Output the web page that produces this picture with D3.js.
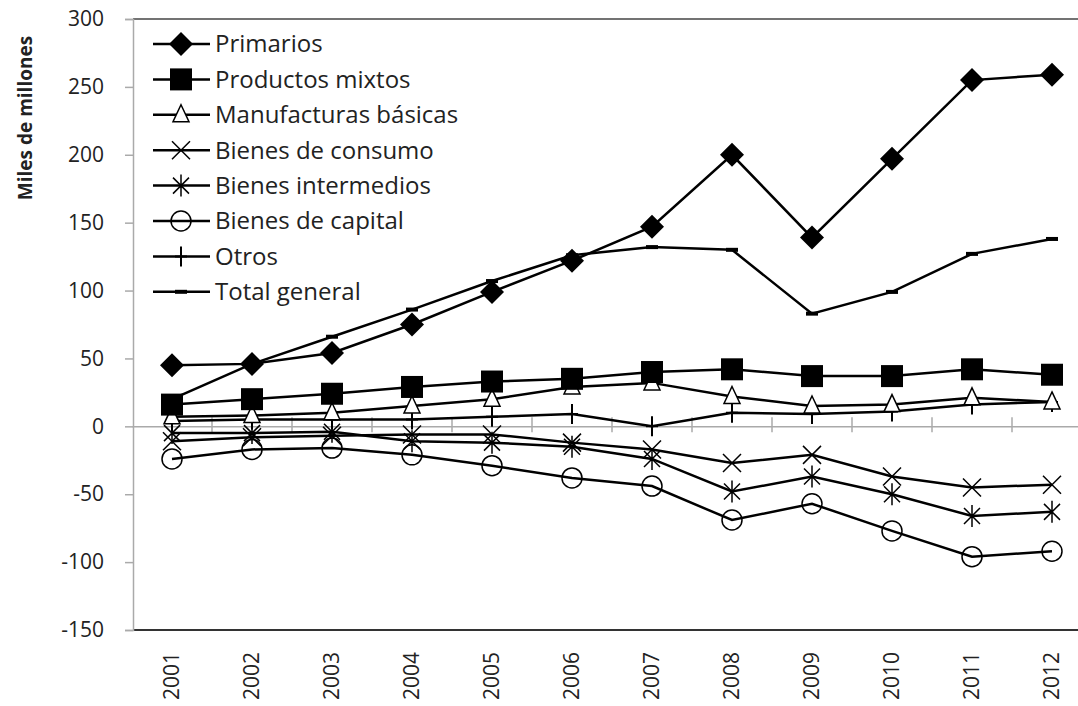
<!DOCTYPE html>
<html>
<head>
<meta charset="utf-8">
<script src="https://cdn.jsdelivr.net/npm/d3@7"></script>
<style>
  body { margin: 0; background: #fff; }
  text { font-family: "Open Sans", Lato, sans-serif; fill: #222; }
</style>
</head>
<body>
<svg width="1078" height="706"></svg>
<script>
const years = ['2001','2002','2003','2004','2005','2006','2007','2008','2009','2010','2011','2012'];
const yTicks = [300, 250, 200, 150, 100, 50, 0, -50, -100, -150];

// series values (miles de millones)
const primarios     = [45, 46, 54, 75, 99, 122, 147, 200, 139, 197, 255, 259];
const mixtos        = [16, 20, 24, 29, 33, 35, 40, 42, 37, 37, 42, 38];
const manufacturas  = [7, 8, 10, 15, 20, 29, 32, 22, 15, 16, 21, 18];
const consumo       = [-11, -8, -7, -6, -6, -12, -17, -27, -21, -37, -45, -43];
const intermedios   = [-5, -5, -4, -11, -12, -15, -24, -48, -37, -50, -66, -63];
const capital       = [-24, -17, -16, -21, -29, -38, -44, -69, -57, -77, -96, -92];
const otros         = [4, 5, 5, 5, 7, 9, 0, 10, 9, 11, 16, 18];
const total         = [20, 46, 66, 86, 107, 126, 132, 130, 83, 99, 127, 138];

const series = [
  { name: 'Primarios', values: primarios, marker: 'diamond' },
  { name: 'Productos mixtos', values: mixtos, marker: 'square' },
  { name: 'Manufacturas básicas', values: manufacturas, marker: 'triangle' },
  { name: 'Bienes de consumo', values: consumo, marker: 'x' },
  { name: 'Bienes intermedios', values: intermedios, marker: 'asterisk' },
  { name: 'Bienes de capital', values: capital, marker: 'circle' },
  { name: 'Otros', values: otros, marker: 'plus' },
  { name: 'Total general', values: total, marker: 'dash' }
];

const svg = d3.select('svg');
const plotL = 133, plotR = 1092, plotT = 19, plotB = 630;

const x = d3.scaleBand().domain(years).range([plotL - 1, plotR]);
const cx = d => x(d) + x.bandwidth() / 2;
const y = d3.scaleLinear().domain([-150, 300]).range([plotB, plotT]);

// frame lines
svg.append('line').attr('x1', plotL).attr('x2', 1078).attr('y1', plotT).attr('y2', plotT)
  .attr('stroke', '#444').attr('stroke-width', 1.5);
svg.append('line').attr('x1', plotL).attr('x2', 1078).attr('y1', plotB).attr('y2', plotB)
  .attr('stroke', '#333').attr('stroke-width', 2);

// y axis
const yAxis = svg.append('g').attr('transform', `translate(${plotL},0)`)
  .call(d3.axisLeft(y).tickValues(yTicks).tickSize(8).tickPadding(21).tickFormat(d => String(d)));
yAxis.select('.domain').attr('stroke', '#aaa').attr('stroke-width', 1.5);
yAxis.selectAll('.tick line').attr('stroke', '#aaa').attr('stroke-width', 1.5);
yAxis.selectAll('.tick text').style('font-size', '21px').style('font-family', '"Open Sans", sans-serif').attr('fill', '#222');

// zero line with category ticks
const xAxis = svg.append('g').attr('transform', `translate(0,${y(0)})`)
  .call(d3.axisBottom(x).tickSize(0).tickFormat(''));
xAxis.select('.domain').attr('stroke', '#aaa').attr('stroke-width', 1.5);
xAxis.selectAll('.tick').remove();
xAxis.selectAll('.bound').data(years.slice(1)).join('line')
  .attr('x1', d => x(d)).attr('x2', d => x(d))
  .attr('y1', -9).attr('y2', 6)
  .attr('stroke', '#aaa').attr('stroke-width', 1.5);

// x labels
svg.append('g').selectAll('text').data(years).join('text')
  .attr('transform', d => `translate(${cx(d)},652) rotate(-90)`)
  .attr('text-anchor', 'end').attr('dy', '0.35em')
  .style('font-size', '21px').text(d => d);

// y title
svg.append('text')
  .attr('transform', 'translate(25,118) rotate(-90)')
  .attr('text-anchor', 'middle').attr('dy', '0.35em')
  .style('font-size', '19px').style('font-weight', 'bold')
  .text('Miles de millones');

function drawMarker(g, type) {
  const s = 'black';
  if (type === 'diamond') g.append('path').attr('d', 'M0,-12L12,0L0,12L-12,0Z').attr('fill', s);
  if (type === 'square') g.append('rect').attr('x', -11).attr('y', -11).attr('width', 22).attr('height', 22).attr('fill', s);
  if (type === 'triangle') g.append('path').attr('d', 'M0,-10L8,7L-8,7Z').attr('fill', 'white').attr('stroke', s).attr('stroke-width', 1.5);
  if (type === 'x') g.append('path').attr('d', 'M-9,-9L9,9M9,-9L-9,9').attr('stroke', s).attr('stroke-width', 1.5);
  if (type === 'asterisk') g.append('path').attr('d', 'M-8,-8L8,8M8,-8L-8,8M0,-11L0,11').attr('stroke', s).attr('stroke-width', 1.5);
  if (type === 'circle') g.append('circle').attr('r', 10).attr('fill', 'none').attr('stroke', s).attr('stroke-width', 1.5);
  if (type === 'plus') g.append('path').attr('d', 'M0,-10L0,10M-6,0L6,0').attr('stroke', s).attr('stroke-width', 2);
  if (type === 'dash') g.append('rect').attr('x', -6).attr('y', -2).attr('width', 12).attr('height', 4).attr('fill', s);
}

const line = d3.line().x((d, i) => cx(years[i])).y(d => y(d));

// draw in reverse so Primarios sits on top
series.slice().reverse().forEach(sr => {
  const g = svg.append('g');
  g.append('path').attr('d', line(sr.values))
    .attr('fill', 'none').attr('stroke', 'black').attr('stroke-width', 2.5);
  sr.values.forEach((v, i) => {
    drawMarker(g.append('g').attr('transform', `translate(${cx(years[i])},${y(v)})`), sr.marker);
  });
});

// legend
const legend = svg.append('g').attr('transform', 'translate(153,44)');
const rows = legend.selectAll('g').data(series).join('g')
  .attr('transform', (d, i) => `translate(0,${i * 35.4})`);
rows.append('line').attr('x1', 0).attr('x2', 57).attr('stroke', 'black').attr('stroke-width', 2.5);
rows.each(function (d) { drawMarker(d3.select(this).append('g').attr('transform', 'translate(28,0)'), d.marker); });
rows.append('text').attr('x', 62).attr('dy', '0.35em').style('font-size', '24px').text(d => d.name);
</script>
</body>
</html>
